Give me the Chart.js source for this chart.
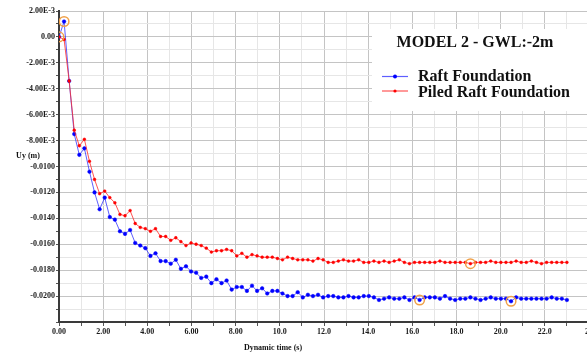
<!DOCTYPE html>
<html>
<head>
<meta charset="utf-8">
<title>MODEL 2 - GWL:-2m</title>
<script src="https://cdn.jsdelivr.net/npm/chart.js@4/dist/chart.umd.min.js"></script>
<style>
  html, body { margin: 0; padding: 0; background: #ffffff; overflow: hidden; }
  #wrap { width: 600px; height: 354px; }
</style>
</head>
<body>
<div id="wrap"><canvas id="chart" width="600" height="354"></canvas></div>
<script>
// Dynamic time (s) of each calculation step
const timeSteps = [
  0, 0.23, 0.46, 0.69, 0.92, 1.15, 1.38, 1.61, 1.84, 2.07,
  2.3, 2.53, 2.76, 2.99, 3.22, 3.45, 3.68, 3.91, 4.14, 4.37,
  4.6, 4.83, 5.06, 5.29, 5.52, 5.75, 5.98, 6.21, 6.44, 6.67,
  6.9, 7.13, 7.36, 7.59, 7.82, 8.05, 8.28, 8.51, 8.74, 8.97,
  9.2, 9.43, 9.66, 9.89, 10.12, 10.35, 10.58, 10.81, 11.04, 11.27,
  11.5, 11.73, 11.96, 12.19, 12.42, 12.65, 12.88, 13.11, 13.34, 13.57,
  13.8, 14.03, 14.26, 14.49, 14.72, 14.95, 15.18, 15.41, 15.64, 15.87,
  16.1, 16.33, 16.56, 16.79, 17.02, 17.25, 17.48, 17.71, 17.94, 18.17,
  18.4, 18.63, 18.86, 19.09, 19.32, 19.55, 19.78, 20.01, 20.24, 20.47,
  20.7, 20.93, 21.16, 21.39, 21.62, 21.85, 22.08, 22.31, 22.54, 22.77,
  23.0
];

// Vertical displacement Uy (m) – raft foundation
const raftUy = [
  0, 0.00119, -0.0034, -0.0075, -0.0091, -0.0086, -0.0104, -0.0120, -0.0133, -0.0124,
  -0.0139, -0.0141, -0.0150, -0.0152, -0.0149, -0.0159, -0.0161, -0.0163, -0.0169, -0.0167,
  -0.0173, -0.0173, -0.0175, -0.0172, -0.0179, -0.0177, -0.0181, -0.0182, -0.0186, -0.0185,
  -0.0190, -0.0187, -0.0190, -0.0188, -0.0195, -0.0193, -0.0193, -0.0196, -0.0192, -0.0196,
  -0.0194, -0.0198, -0.0196, -0.0196, -0.0198, -0.0200, -0.0200, -0.0197, -0.0201, -0.0199,
  -0.0200, -0.0199, -0.0201, -0.0200, -0.0200, -0.0201, -0.0201, -0.0200, -0.0201, -0.0201,
  -0.0200, -0.0200, -0.0201, -0.0203, -0.0202, -0.0201, -0.0202, -0.0202, -0.0201, -0.0203,
  -0.0201, -0.0203, -0.0201, -0.0201, -0.0201, -0.0202, -0.0200, -0.0202, -0.0203, -0.0202,
  -0.0202, -0.0201, -0.0202, -0.0203, -0.0202, -0.0201, -0.0202, -0.0202, -0.0202, -0.0204,
  -0.0201, -0.0202, -0.0202, -0.0202, -0.0202, -0.0202, -0.0202, -0.0201, -0.0202, -0.0202,
  -0.0203
];

// Vertical displacement Uy (m) – piled raft foundation
const piledRaftUy = [
  0, -0.0002, -0.0034, -0.0072, -0.0084, -0.0079, -0.0096, -0.0110, -0.0121, -0.0119,
  -0.0124, -0.0128, -0.0137, -0.0138, -0.0134, -0.0144, -0.0147, -0.0148, -0.0150, -0.0148,
  -0.0154, -0.0154, -0.0157, -0.0155, -0.0158, -0.0161, -0.0159, -0.0160, -0.0161, -0.0163,
  -0.0166, -0.0165, -0.0165, -0.0164, -0.0165, -0.0169, -0.0167, -0.0170, -0.0168, -0.0169,
  -0.0170, -0.0170, -0.0170, -0.0171, -0.0172, -0.0170, -0.0171, -0.0172, -0.0172, -0.0172,
  -0.0173, -0.0171, -0.0172, -0.0174, -0.0174, -0.0173, -0.0172, -0.0173, -0.0173, -0.0172,
  -0.0174, -0.0174, -0.0173, -0.0174, -0.0173, -0.0174, -0.0173, -0.0172, -0.0174, -0.0175,
  -0.0174, -0.0174, -0.0174, -0.0174, -0.0174, -0.0173, -0.0174, -0.0174, -0.0174, -0.0174,
  -0.0174, -0.0175, -0.0174, -0.0174, -0.0174, -0.0173, -0.0174, -0.0174, -0.0174, -0.0174,
  -0.0173, -0.0174, -0.0174, -0.0173, -0.0174, -0.0175, -0.0174, -0.0174, -0.0174, -0.0174,
  -0.0174
];

// Selected (ringed) steps: [series, step index]
const markedSteps = [
  ['raft', 1], ['piled', 0], ['piled', 81], ['raft', 71], ['raft', 89]
];

const seriesLabels = ['Raft Foundation', 'Piled Raft Foundation'];
const chartTitle = 'MODEL 2 - GWL:-2m';
const xAxisTitle = 'Dynamic time (s)';
const yAxisTitle = 'Uy (m)';

const BLUE = '#0000ff';
const RED = '#ff0000';
const RING = '#f0a048';
const SERIF = '"Liberation Serif", "Times New Roman", serif';

const toPoints = (ys) => ys.map((y, i) => ({ x: timeSteps[i], y }));
const seriesByKey = { raft: raftUy, piled: piledRaftUy };
const markedPoints = markedSteps.map(([k, i]) => ({ x: timeSteps[i], y: seriesByKey[k][i] }));

function yLabel(v) {
  const m = Math.round(v * 1000);
  if (m % 2 !== 0 || m === -22) return '';
  if (m === 0) return '0.00';
  if (Math.abs(m) < 10) return (m).toFixed(2) + 'E-3';
  return (m / 1000).toFixed(4);
}
function xLabel(v) {
  const t = Math.round(v);
  if (t % 2 !== 0) return '';
  if (t < 10) return t.toFixed(2);
  if (t < 24) return t.toFixed(1);
  return String(t);
}
const isMajorY = (v) => Math.round(v * 1000) % 2 === 0;
const isMajorX = (v) => Math.round(v) % 2 === 0;

// Title, legend box and horizontal axis captions
const annotations = {
  id: 'annotations',
  afterDraw(chart) {
    const ctx = chart.ctx;
    ctx.save();
    // white legend panel
    ctx.fillStyle = '#ffffff';
    ctx.fillRect(372, 29, 240, 82);

    ctx.fillStyle = '#111111';
    ctx.textBaseline = 'alphabetic';
    ctx.font = 'bold 16px ' + SERIF;
    ctx.textAlign = 'center';
    ctx.fillText(chartTitle, 475, 47);

    const ds = chart.data.datasets;
    const rows = [{ d: ds[0], y: 76.5, base: 81 }, { d: ds[1], y: 91, base: 96.5 }];
    ctx.font = 'bold 16px ' + SERIF;
    ctx.textAlign = 'left';
    rows.forEach(r => {
      ctx.strokeStyle = r.d.borderColor;
      ctx.lineWidth = 1.2;
      ctx.beginPath();
      ctx.moveTo(382, r.y);
      ctx.lineTo(408, r.y);
      ctx.stroke();
      ctx.fillStyle = r.d.pointBackgroundColor;
      ctx.beginPath();
      ctx.arc(395, r.y, r.d === ds[0] ? 2 : 1.6, 0, Math.PI * 2);
      ctx.fill();
      ctx.fillStyle = '#111111';
      ctx.fillText(r.d.label, 418, r.base);
    });

    // axis captions
    ctx.font = 'bold 8px ' + SERIF;
    ctx.textAlign = 'center';
    ctx.textBaseline = 'middle';
    ctx.fillText(yAxisTitle, 28, 156);
    ctx.fillText(xAxisTitle, 273, 348);
    ctx.restore();
  }
};

new Chart(document.getElementById('chart'), {
  type: 'line',
  data: {
    datasets: [
      {
        label: seriesLabels[0],
        data: toPoints(raftUy),
        borderColor: 'rgba(40,40,255,0.75)',
        borderWidth: 1,
        pointBackgroundColor: BLUE,
        pointBorderColor: BLUE,
        pointRadius: 1.8,
        pointBorderWidth: 0.5,
        tension: 0,
        order: 2
      },
      {
        label: seriesLabels[1],
        data: toPoints(piledRaftUy),
        borderColor: 'rgba(255,40,40,0.8)',
        borderWidth: 1,
        pointBackgroundColor: RED,
        pointBorderColor: RED,
        pointRadius: 1.4,
        pointBorderWidth: 0.5,
        tension: 0,
        order: 1
      },
      {
        label: 'selected',
        data: markedPoints,
        showLine: false,
        pointRadius: 4.8,
        pointBackgroundColor: 'rgba(0,0,0,0)',
        pointBorderColor: RING,
        pointBorderWidth: 1.5,
        clip: 0,
        order: 0
      }
    ]
  },
  options: {
    responsive: false,
    animation: false,
    events: [],
    layout: { padding: { top: 11, right: 11, left: 0, bottom: 0 } },
    plugins: {
      legend: { display: false },
      title: { display: false },
      tooltip: { enabled: false }
    },
    scales: {
      x: {
        type: 'linear',
        min: 0,
        max: 24,
        afterFit(scale) { scale.height = 32; },
        ticks: {
          stepSize: 1,
          autoSkip: false,
          maxRotation: 0,
          maxTicksLimit: 100,
          padding: 1,
          color: '#1a1a1a',
          font: { family: SERIF, size: 8, weight: 'bold' },
          callback: (v) => xLabel(v)
        },
        grid: {
          color: (c) => isMajorX(c.tick.value) ? '#c4c4c4' : '#e6e6e6',
          tickColor: '#555555',
          tickLength: 4,
          lineWidth: 1
        },
        border: { display: true, color: '#3a3a3a', width: 2 }
      },
      y: {
        type: 'linear',
        min: -0.022,
        max: 0.002,
        afterFit(scale) { scale.width = 59; },
        ticks: {
          stepSize: 0.001,
          autoSkip: false,
          maxTicksLimit: 100,
          padding: 1,
          color: '#1a1a1a',
          font: { family: SERIF, size: 8, weight: 'bold' },
          callback: (v) => yLabel(v)
        },
        grid: {
          color: (c) => isMajorY(c.tick.value) ? '#c4c4c4' : '#e6e6e6',
          tickColor: '#555555',
          tickLength: 3,
          lineWidth: 1
        },
        border: { display: true, color: '#3a3a3a', width: 2 }
      }
    }
  },
  plugins: [annotations]
});
</script>
</body>
</html>
